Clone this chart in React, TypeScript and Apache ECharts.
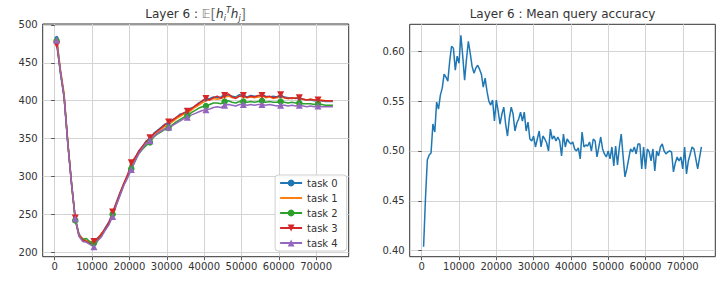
import React, { useEffect, useRef } from "react";
import * as echarts from "echarts";

// sample positions (training steps)
const leftSteps: number[] = Array.from({ length: 75 }, (_, i) => 500 + 1000 * i);
const rightSteps: number[] = Array.from({ length: 150 }, (_, i) => 500 * (i + 1));

const xTicks = [0, 10000, 20000, 30000, 40000, 50000, 60000, 70000];
const leftYTicks = [200, 250, 300, 350, 400, 450, 500];
const rightYTicks = [0.4, 0.45, 0.5, 0.55, 0.6];

const taskNames = ["task 0", "task 1", "task 2", "task 3", "task 4"];

const task0 = [
  483, 438, 407, 343, 292, 244, 224, 217, 215, 213,
  212, 219, 223, 232, 240, 251, 266, 279, 290, 301,
  312, 323, 334, 339, 347, 348, 357, 361, 365, 369,
  370, 375, 377, 382, 383, 384, 390, 392, 397, 399,
  402, 403, 405, 404, 405, 408, 407, 406, 405, 408,
  407, 405, 407, 406, 406, 408, 406, 405, 406, 405,
  406, 405, 404, 403, 404, 403, 402, 401, 401, 400,
  400, 400, 399, 399, 399,
];
const task1 = [
  485, 442, 410, 346, 291, 243, 223, 218, 215, 214,
  213, 217, 225, 230, 238, 250, 264, 277, 290, 300,
  311, 322, 331, 338, 343, 346, 354, 358, 362, 366,
  368, 372, 376, 379, 382, 383, 387, 391, 394, 397,
  400, 401, 403, 402, 403, 405, 406, 404, 404, 406,
  405, 404, 405, 404, 405, 406, 404, 405, 403, 404,
  405, 404, 403, 403, 404, 402, 402, 401, 402, 401,
  401, 401, 400, 400, 400,
];
const task2 = [
  479, 437, 404, 344, 289, 242, 221, 217, 218, 213,
  212, 216, 223, 229, 237, 250, 263, 276, 289, 299,
  310, 320, 330, 336, 341, 345, 352, 356, 359, 362,
  364, 368, 372, 375, 378, 380, 384, 387, 390, 392,
  393, 395, 397, 397, 396, 399, 400, 398, 397, 399,
  399, 398, 399, 398, 399, 400, 398, 399, 398, 398,
  399, 398, 397, 398, 397, 397, 396, 396, 396, 395,
  396, 395, 394, 394, 394,
];
const task3 = [
  474, 440, 405, 345, 290, 245, 222, 216, 214, 211,
  214, 218, 224, 231, 239, 253, 265, 278, 291, 302,
  318, 325, 333, 340, 346, 351, 356, 360, 364, 368,
  372, 374, 378, 381, 384, 386, 389, 393, 396, 400,
  403, 401, 404, 406, 403, 407, 409, 405, 403, 406,
  407, 404, 406, 405, 407, 407, 405, 406, 404, 405,
  408, 404, 403, 404, 403, 404, 402, 401, 402, 401,
  401, 400, 400, 400, 400,
];
const task4 = [
  480, 439, 406, 343, 290, 244, 221, 214, 213, 210,
  207, 215, 220, 229, 236, 247, 262, 275, 288, 298,
  309, 320, 330, 337, 344, 347, 353, 357, 360, 363,
  365, 367, 370, 373, 376, 378, 381, 383, 385, 387,
  388, 389, 391, 392, 391, 394, 395, 394, 393, 395,
  395, 394, 395, 394, 395, 395, 394, 395, 394, 393,
  394, 394, 393, 394, 393, 394, 393, 392, 393, 392,
  393, 392, 392, 392, 392,
];

const meanQueryAccuracy = [
  0.404, 0.452, 0.491, 0.496, 0.498, 0.527, 0.519, 0.549, 0.542, 0.556,
  0.563, 0.577, 0.574, 0.570, 0.590, 0.605, 0.603, 0.581, 0.595, 0.588,
  0.616, 0.595, 0.571, 0.592, 0.610, 0.598, 0.585, 0.578, 0.583, 0.586,
  0.582, 0.577, 0.564, 0.573, 0.560, 0.550, 0.546, 0.551, 0.530, 0.551,
  0.540, 0.527, 0.537, 0.544, 0.527, 0.515, 0.533, 0.544, 0.537, 0.520,
  0.528, 0.532, 0.539, 0.530, 0.539, 0.520, 0.529, 0.512, 0.510, 0.515,
  0.504, 0.512, 0.520, 0.504, 0.515, 0.512, 0.508, 0.500, 0.522, 0.512,
  0.515, 0.510, 0.514, 0.510, 0.495, 0.517, 0.504, 0.512, 0.509, 0.507,
  0.509, 0.502, 0.500, 0.503, 0.492, 0.519, 0.504, 0.506, 0.505, 0.509,
  0.500, 0.512, 0.510, 0.494, 0.504, 0.514, 0.502, 0.497, 0.494, 0.500,
  0.492, 0.504, 0.485, 0.505, 0.486, 0.504, 0.517, 0.495, 0.474, 0.482,
  0.492, 0.502, 0.499, 0.504, 0.497, 0.507, 0.507, 0.482, 0.504, 0.482,
  0.502, 0.499, 0.490, 0.502, 0.480, 0.500, 0.495, 0.504, 0.507, 0.500,
  0.497, 0.499, 0.500, 0.499, 0.479, 0.488, 0.494, 0.490, 0.494, 0.482,
  0.504, 0.477, 0.490, 0.497, 0.504, 0.502, 0.492, 0.482, 0.493, 0.504,
];

const FONT = "DejaVu Sans";
const TXT = "#333";
const GRIDLINE = "#d4d4d4";

const taskStyles = [
  { values: task0, color: "#1f77b4", symbol: "circle", size: 4 },
  { values: task1, color: "#ff7f0e", symbol: "none", size: 0 },
  { values: task2, color: "#2ca02c", symbol: "circle", size: 6.5 },
  { values: task3, color: "#d62728", symbol: "path://M0,0L10,0L5,9Z", size: 7 },
  { values: task4, color: "#9467bd", symbol: "triangle", size: 7 },
];

function xAxisDef(gridIndex: number) {
  return {
    type: "value",
    gridIndex,
    min: -3225,
    max: 78725,
    axisLine: { show: false },
    axisTick: { show: true, length: 3.5, lineStyle: { color: "#333", width: 0.8 }, customValues: xTicks },
    axisLabel: {
      customValues: xTicks,
      fontSize: 10,
      color: TXT,
      fontFamily: FONT,
      margin: 5,
      formatter: (v: number) => String(v),
    },
    splitLine: { show: true, lineStyle: { color: GRIDLINE, width: 1 } },
  };
}

export default function App() {
  const ref = useRef<HTMLDivElement>(null);
  useEffect(() => {
    if (!ref.current) return;
    const chart = echarts.init(ref.current, undefined, { renderer: "svg" });

    const leftSeries = taskStyles.map((t, k) => ({
      type: "line",
      name: taskNames[k],
      xAxisIndex: 0,
      yAxisIndex: 0,
      symbol: t.symbol,
      symbolSize: t.size,
      showSymbol: true,
      showAllSymbol: true,
      silent: true,
      lineStyle: { color: t.color, width: 1.5 },
      itemStyle: { color: t.color },
      emphasis: { disabled: true },
      data: t.values.map((v, i) =>
        i % 5 === 0 ? { value: [leftSteps[i], v] } : { value: [leftSteps[i], v], symbol: "none" }
      ),
    }));

    const option: any = {
      animation: false,
      grid: [
        { left: 42.7, top: 24, width: 306, height: 232.7, show: true, borderColor: "#333", borderWidth: 1, backgroundColor: "transparent" },
        { left: 409.7, top: 24.3, width: 305.6, height: 232.4, show: true, borderColor: "#333", borderWidth: 1, backgroundColor: "transparent" },
      ],
      xAxis: [xAxisDef(0), xAxisDef(1)],
      yAxis: [
        {
          type: "value",
          gridIndex: 0,
          min: 194,
          max: 501.3,
          axisLine: { show: false },
          axisTick: { show: true, length: 3.5, lineStyle: { color: "#333", width: 0.8 }, customValues: leftYTicks },
          axisLabel: { customValues: leftYTicks, fontSize: 10, color: TXT, fontFamily: FONT, margin: 5 },
          splitLine: { show: true, lineStyle: { color: GRIDLINE, width: 1 } },
        },
        {
          type: "value",
          gridIndex: 1,
          min: 0.394,
          max: 0.627,
          axisLine: { show: false },
          axisTick: { show: true, length: 3.5, lineStyle: { color: "#333", width: 0.8 }, customValues: rightYTicks },
          axisLabel: {
            customValues: rightYTicks,
            fontSize: 10,
            color: TXT,
            fontFamily: FONT,
            margin: 5,
            formatter: (v: number) => v.toFixed(2),
          },
          splitLine: { show: true, lineStyle: { color: GRIDLINE, width: 1 } },
        },
      ],
      legend: {
        show: true,
        data: [
          { name: "task 0" },
          { name: "task 1", itemStyle: { opacity: 0 } },
          { name: "task 2" },
          { name: "task 3" },
          { name: "task 4" },
        ],
        orient: "vertical",
        right: 379.3,
        bottom: 30,
        itemWidth: 22,
        itemHeight: 8.5,
        itemGap: 5,
        padding: [3, 9, 3, 4],
        backgroundColor: "rgba(255,255,255,0.85)",
        borderColor: "#d0d0d0",
        borderWidth: 1,
        borderRadius: 3,
        selectedMode: false,
        textStyle: { fontSize: 10, color: TXT, fontFamily: FONT, lineHeight: 10 },
      },
      graphic: [
        {
          type: "text",
          x: 195.7,
          y: 14,
          silent: true,
          style: {
            text: "Layer 6 : {bb|𝔼}{br|[}{it|h}{sub|i}{sup|T}{it|h}{sub|j}{br|]}",
            align: "center",
            verticalAlign: "middle",
            fontSize: 12,
            fontFamily: FONT,
            fill: TXT,
            rich: {
              bb: { fontSize: 12, fontFamily: FONT, fill: "#777", lineHeight: 16 },
              br: { fontSize: 14, fontFamily: FONT, fill: "#777", lineHeight: 16 },
              it: { fontSize: 12, fontFamily: FONT, fontStyle: "italic", fill: TXT, lineHeight: 16 },
              sub: { fontSize: 8, fontFamily: FONT, fontStyle: "italic", fill: TXT, verticalAlign: "bottom", lineHeight: 8 },
              sup: { fontSize: 8, fontFamily: FONT, fontStyle: "italic", fill: TXT, verticalAlign: "top", lineHeight: 8 },
            },
          },
        },
        {
          type: "text",
          x: 562.5,
          y: 14,
          silent: true,
          style: {
            text: "Layer 6 : Mean query accuracy",
            align: "center",
            verticalAlign: "middle",
            fontSize: 12,
            fontFamily: FONT,
            fill: TXT,
          },
        },
      ],
      series: [
        ...leftSeries,
        {
          type: "line",
          name: "Mean query accuracy",
          xAxisIndex: 1,
          yAxisIndex: 1,
          showSymbol: false,
          symbol: "none",
          silent: true,
          lineStyle: { color: "#1f77b4", width: 1.5 },
          itemStyle: { color: "#1f77b4" },
          emphasis: { disabled: true },
          data: meanQueryAccuracy.map((v, i) => [rightSteps[i], v]),
        },
      ],
    };
    chart.setOption(option);
    return () => chart.dispose();
  }, []);
  return (
    <div
      ref={ref}
      style={{ position: "absolute", left: 0, top: 0, width: 726, height: 281, background: "#fff" }}
    />
  );
}
